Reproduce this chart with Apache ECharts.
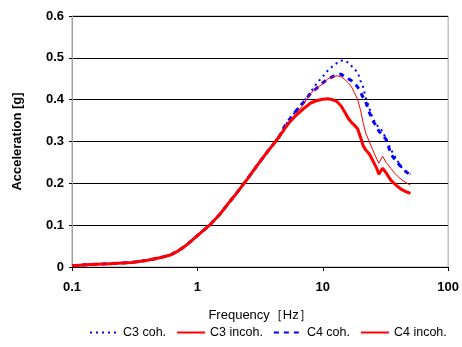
<!DOCTYPE html>
<html>
<head>
<meta charset="utf-8">
<script src="https://cdn.jsdelivr.net/npm/echarts@6/dist/echarts.min.js"></script>
<style>
  html, body { margin: 0; padding: 0; background: #fff; }
  #chart { width: 462px; height: 347px; }
</style>
</head>
<body>
<div id="chart"></div>
<script>
// frequency [Hz]
const freq = [0.1, 0.14, 0.2, 0.3, 0.4, 0.5, 0.6, 0.7, 0.8, 1, 1.25, 1.5, 1.8, 2, 2.5, 3, 3.5, 4, 4.5,
  5, 5.5, 6, 7, 8, 9, 10, 11, 12, 13, 14, 15, 16, 17, 18, 19, 20, 21, 22, 23.5, 25, 27, 28, 30, 32, 35, 38, 42, 46, 50]

// shared low-frequency part (0.1 - 4.5 Hz)
const low = [0.003, 0.006, 0.008, 0.011, 0.016, 0.022, 0.028, 0.038, 0.05, 0.075, 0.1, 0.125, 0.155, 0.172, 0.21, 0.243, 0.27, 0.292, 0.312]

const c3Coh = low.concat([0.338, 0.355, 0.37, 0.395, 0.418, 0.44, 0.455, 0.47, 0.48, 0.488, 0.493, 0.494, 0.488, 0.48, 0.472,
  0.465, 0.445, 0.43, 0.405, 0.38, 0.355, 0.34, 0.333, 0.325, 0.305, 0.28, 0.262, 0.24, 0.228, 0.222])
const c3Incoh = low.concat([0.334, 0.35, 0.363, 0.388, 0.415, 0.428, 0.438, 0.45, 0.455, 0.457, 0.455, 0.448, 0.44, 0.43, 0.415,
  0.4, 0.375, 0.345, 0.32, 0.3, 0.28, 0.258, 0.248, 0.265, 0.25, 0.235, 0.222, 0.21, 0.202, 0.196])
const c4Coh = low.concat([0.338, 0.355, 0.37, 0.393, 0.415, 0.428, 0.44, 0.45, 0.455, 0.46, 0.461, 0.455, 0.45, 0.445, 0.438,
  0.43, 0.418, 0.405, 0.395, 0.37, 0.35, 0.335, 0.325, 0.315, 0.305, 0.27, 0.255, 0.24, 0.228, 0.22])
const c4Incoh = low.concat([0.332, 0.348, 0.36, 0.378, 0.392, 0.398, 0.401, 0.402, 0.4, 0.395, 0.385, 0.37, 0.355, 0.345, 0.338,
  0.33, 0.31, 0.29, 0.28, 0.27, 0.255, 0.235, 0.222, 0.236, 0.225, 0.207, 0.197, 0.186, 0.18, 0.176])

const legendNames = ['C3 coh.', 'C3 incoh.', 'C4 coh.', 'C4 incoh.']

const pairs = (vals) => freq.map((f, i) => [f, vals[i]])
const font = '"Liberation Sans", Arial, sans-serif'

const chart = echarts.init(document.getElementById('chart'), null, { renderer: 'canvas' })

chart.setOption({
  animation: false,
  textStyle: { fontFamily: font },
  grid: {
    left: 72, right: 13, top: 16, bottom: 80,
    show: true, borderColor: '#a0a0a0', borderWidth: 1
  },
  legend: {
    data: legendNames,
    bottom: 3,
    left: 84,
    itemWidth: 28,
    itemHeight: 10,
    itemGap: 10,
    itemStyle: { opacity: 0 },
    textStyle: { fontFamily: font, fontSize: 12.5, color: '#000' }
  },
  xAxis: {
    type: 'log',
    logBase: 10,
    min: 0.1,
    max: 100,
    name: 'Frequency［Hz］',
    nameLocation: 'middle',
    nameGap: 42,
    nameTextStyle: { fontFamily: font, fontSize: 13, color: '#000' },
    axisLine: { show: true, lineStyle: { color: '#000', width: 1 } },
    axisTick: { show: true, inside: false, length: 4, lineStyle: { color: '#000' } },
    axisLabel: {
      margin: 14, color: '#000', fontSize: 13, fontWeight: 'bold', fontFamily: font,
      formatter: (v) => String(v)
    },
    splitLine: { show: false },
    minorTick: { show: false }
  },
  yAxis: {
    type: 'value',
    min: 0,
    max: 0.6,
    interval: 0.1,
    name: 'Acceleration [g]',
    nameLocation: 'middle',
    nameGap: 48,
    nameTextStyle: { fontFamily: font, fontSize: 13, fontWeight: 'bold', color: '#000' },
    axisLine: { show: true, lineStyle: { color: '#a0a0a0', width: 1 } },
    axisTick: { show: true, length: 3, lineStyle: { color: '#000' } },
    axisLabel: {
      margin: 8, color: '#000', fontSize: 13, fontWeight: 'bold', fontFamily: font,
      formatter: (v) => (v === 0 ? '0' : v.toFixed(1))
    },
    splitLine: { show: true, lineStyle: { color: '#000', width: 1 } }
  },
  series: [
    {
      name: 'C3 coh.', type: 'line', symbol: 'none', smooth: false, z: 2,
      itemStyle: { color: '#0000ff' },
      lineStyle: { color: '#0000ff', width: 2, type: [2, 4] },
      data: pairs(c3Coh)
    },
    {
      name: 'C4 coh.', type: 'line', symbol: 'none', smooth: false, z: 3,
      itemStyle: { color: '#0000ff' },
      lineStyle: { color: '#0000ff', width: 3, type: [5, 5] },
      data: pairs(c4Coh)
    },
    {
      name: 'C3 incoh.', type: 'line', symbol: 'none', smooth: false, z: 4,
      itemStyle: { color: '#ff0000' },
      lineStyle: { color: '#ff0000', width: 1 },
      data: pairs(c3Incoh)
    },
    {
      name: 'C4 incoh.', type: 'line', symbol: 'none', smooth: false, z: 5,
      itemStyle: { color: '#ff0000' },
      lineStyle: { color: '#ff0000', width: 3 },
      data: pairs(c4Incoh)
    }
  ]
})
</script>
</body>
</html>
